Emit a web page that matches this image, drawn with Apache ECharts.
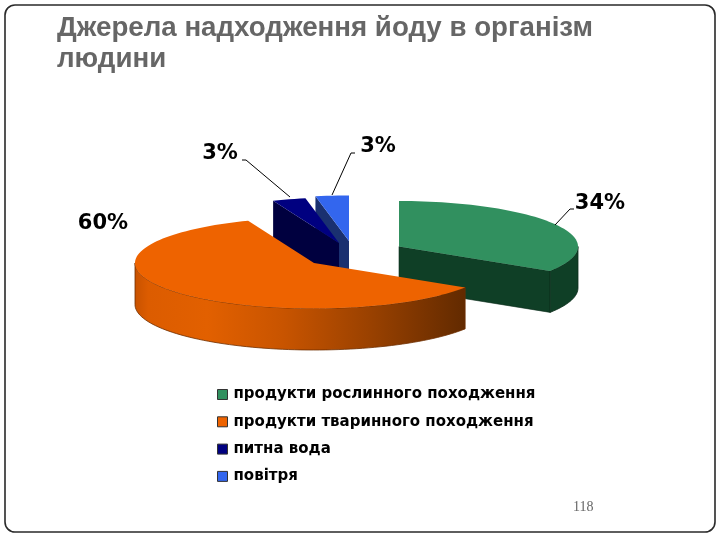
<!DOCTYPE html>
<html><head><meta charset="utf-8">
<style>html,body{margin:0;padding:0;background:#fff}#c{width:720px;height:540px}</style>
<script src="https://cdn.jsdelivr.net/npm/echarts@6/dist/echarts.min.js"></script>
</head><body><div id="c"></div>
<script>
const titleText = 'Джерела надходження йоду в організм\nлюдини';
const categories = ['продукти рослинного походження','продукти тваринного походження','питна вода','повітря'];
const values = [34, 60, 3, 3];
const pageNumber = '118';

const topColors = ['#31905f','#ee6300','#000080','#3366ee'];
const wallColors = ['#0f3f26','#cc5500','#00003f','#1a3070'];
const edgeColors = ['#0b2c1b','#6e2e00','#000030','#152658'];
const centers = [[399,246.5],[314,263],[339,243],[349,241]];
const labelPos = [[600,204],[103,224],[220,154],[378,147]];
const leaders = [
  [[555,225],[570,209],[574,209]],
  null,
  [[242,160],[246,160],[290,197]],
  [[355,153],[351,153],[332,195]]
];
const RX = 179, RY = 45.5, DEPTH = 41.5;
// stacking: [wall, top] layer per slice
const layers = [[1,2],[7,8],[4,5],[3,6]];

const total = values.reduce((a,b)=>a+b,0);
function startAngle(i){ let s=0; for(let k=0;k<i;k++) s+=values[k]; return s/total*360; }
function pt(c,deg,dy){ const r=deg*Math.PI/180; return [c[0]+RX*Math.sin(r), c[1]-RY*Math.cos(r)+(dy||0)]; }
function arc(c,a,b,dy){ const out=[]; const n=Math.max(2,Math.ceil(Math.abs(b-a)/2)); for(let k=0;k<=n;k++) out.push(pt(c,a+(b-a)*k/n,dy)); return out; }

const orangeWall = {type:'linear',x:135,y:0,x2:465,y2:0,global:true,colorStops:[
  {offset:0,color:'#c85200'},{offset:0.04,color:'#dc5c00'},{offset:0.22,color:'#e26000'},
  {offset:0.45,color:'#c85400'},{offset:0.7,color:'#9c4200'},{offset:1,color:'#622a00'}]};

function renderSlice(i){
  return function(params, api){
    const v = api.value(0);
    const a0 = startAngle(i), a1 = a0 + v/total*360;
    const c = centers[i];
    const kids = [];
    const [zw, zt] = layers[i];
    const line = {stroke:edgeColors[i], lineWidth:0.6};
    // radial walls
    if (i===0) {
      const p = pt(c,a1);
      kids.push({type:'polygon',z2:zw,shape:{points:[c,p,[p[0],p[1]+DEPTH],[c[0],c[1]+DEPTH]]},style:{fill:wallColors[i],...line}});
    }
    if (i===2 || i===3) {
      const p = pt(c,a0);
      kids.push({type:'polygon',z2:zw,shape:{points:[p,c,[c[0],c[1]+DEPTH],[p[0],p[1]+DEPTH]]},style:{fill:wallColors[i],stroke:null}});
    }
    // outer curved wall, front half only
    const from = Math.max(a0,90), to = Math.min(a1,270);
    if (to>from) {
      const up = arc(c,from,to,0), down = arc(c,to,from,DEPTH);
      kids.push({type:'polygon',z2:zw,shape:{points:up.concat(down)},style:{fill:i===1?orangeWall:wallColors[i],stroke:edgeColors[i],lineWidth:0.8}});
    }
    // top face
    kids.push({type:'polygon',z2:zt,shape:{points:[c].concat(arc(c,a0,a1,0))},style:{fill:topColors[i],stroke:null}});
    // leader and label
    if (leaders[i]) kids.push({type:'polyline',z2:20,shape:{points:leaders[i]},style:{fill:null,stroke:'#000',lineWidth:1}});
    kids.push({type:'text',z2:21,x:labelPos[i][0],y:labelPos[i][1],style:{
      text:Math.round(v/total*100)+'%',fill:'#000',font:'bold 21px "DejaVu Sans"',align:'center',verticalAlign:'middle'}});
    return {type:'group',children:kids};
  };
}

const chart = echarts.init(document.getElementById('c'),null,{renderer:'canvas'});
chart.setOption({
  animation:false,
  backgroundColor:'#fff',
  title:{text:titleText,left:57,top:13,padding:0,textStyle:{fontFamily:'Liberation Sans',fontWeight:'bold',fontSize:27.7,lineHeight:31,color:'#666666'}},
  legend:{
    orient:'vertical',left:217,top:387,itemWidth:10,itemHeight:10,itemGap:12.3,selectedMode:false,padding:0,
    data:categories.map((n,i)=>({name:n,icon:'rect',itemStyle:{color:topColors[i],borderColor:'#333',borderWidth:1}})),
    textStyle:{fontFamily:'DejaVu Sans',fontWeight:'bold',fontSize:15,color:'#000',padding:[0,0,0,1],lineHeight:14}
  },
  graphic:[
    {type:'rect',z:100,shape:{x:5,y:5,width:710,height:527,r:10},style:{fill:null,stroke:'#2a2a2a',lineWidth:1.6}},
    {type:'text',z:100,x:573,y:500,style:{text:pageNumber,fill:'#666',font:'14px "Liberation Serif"'}}
  ],
  series:categories.map((n,i)=>({
    type:'custom',name:n,coordinateSystem:'none',silent:true,clip:false,
    itemStyle:{color:topColors[i]},
    renderItem:renderSlice(i),
    data:[[values[i]]]
  }))
});
</script></body></html>
